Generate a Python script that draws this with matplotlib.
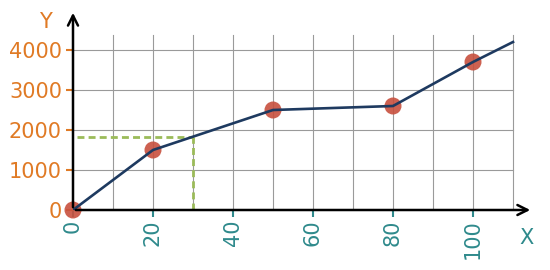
import matplotlib
matplotlib.use("Agg")
import matplotlib.pyplot as plt

# data
x_line = [0, 20, 50, 80, 100, 110]
y_line = [0, 1500, 2500, 2600, 3700, 4200]
x_points = [0, 20, 50, 80, 100]
y_points = [0, 1500, 2500, 2600, 3700]
x_ticks = [0, 20, 40, 60, 80, 100]
y_ticks = [0, 1000, 2000, 3000, 4000]
x_read = 30
y_read = 1833

ORANGE = "#E07A25"
TEAL = "#2F8A8C"
NAVY = "#1E3A60"
RED = "#C8503E"
GREEN = "#9BBB59"
GRID = "#9a9a9a"

fig = plt.figure(figsize=(5.5, 2.7), dpi=100)
ax = fig.add_axes([73 / 550, 60 / 270, 460 / 550, 200 / 270])
ax.set_xlim(0, 115)
ax.set_ylim(0, 5000)

# grid, limited to the drawing area
for gx in range(10, 111, 10):
    ax.plot([gx, gx], [0, 4375], color=GRID, lw=0.8, zorder=1)
for gy in y_ticks[1:]:
    ax.plot([0, 110], [gy, gy], color=GRID, lw=0.8, zorder=1)

# reading guide
ax.plot([1, x_read], [y_read, y_read], color=GREEN, lw=2, ls=(0, (2.5, 1.5)), zorder=2)
ax.plot([x_read, x_read], [0, y_read], color=GREEN, lw=2, ls=(0, (2.5, 1.5)), zorder=2)

ax.scatter(x_points, y_points, s=150, color=RED, alpha=0.9, zorder=3, clip_on=False,
           edgecolors="none")
ax.plot(x_line, y_line, color=NAVY, lw=1.9, zorder=4)

for s in ["top", "right", "left", "bottom"]:
    ax.spines[s].set_visible(False)

# axes with arrow heads
ax.annotate("", xy=(115, 0), xytext=(0, 0),
            arrowprops=dict(arrowstyle="->", lw=1.8, color="black", mutation_scale=18),
            annotation_clip=False, zorder=5)
ax.annotate("", xy=(0, 5000), xytext=(0, 0),
            arrowprops=dict(arrowstyle="->", lw=1.8, color="black", mutation_scale=18),
            annotation_clip=False, zorder=5)

ax.set_xticks(x_ticks)
ax.set_xticklabels([str(v) for v in x_ticks], rotation=90, color=TEAL, fontsize=15)
ax.set_yticks(y_ticks)
ax.set_yticklabels([str(v) for v in y_ticks], color=ORANGE, fontsize=15)
ax.tick_params(axis="x", colors=TEAL, length=5, width=1.5, pad=2)
ax.tick_params(axis="y", colors=ORANGE, length=5, width=1.5, pad=3)

ax.text(-7, 4700, "Y", color=ORANGE, fontsize=15, ha="center", va="center")
ax.text(113.5, -700, "X", color=TEAL, fontsize=15, ha="center", va="center")

fig.savefig("out.png", dpi=100)
